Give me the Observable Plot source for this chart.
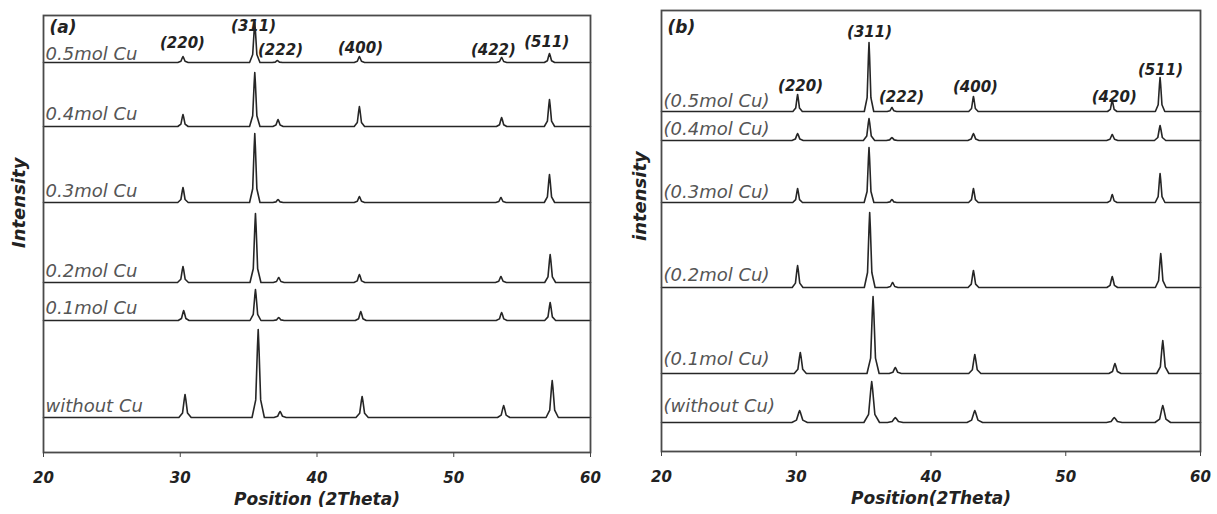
<!DOCTYPE html>
<html><head><meta charset="utf-8">
<script src="https://cdn.jsdelivr.net/npm/d3@7"></script>
<script src="https://cdn.jsdelivr.net/npm/@observablehq/plot@0.6"></script>
<style>
body{margin:0;background:#fff}
#wrap{position:relative;width:1217px;height:514px;overflow:hidden;background:#fff}
#wrap svg{position:absolute;top:0}
#wrap svg g[aria-label="x-axis tick label"]{font-weight:bold;font-style:italic}
</style></head><body><div id="wrap"></div>
<script>
// ---------- Panel (a) ----------
const seriesA = ["0.5mol Cu", "0.4mol Cu", "0.3mol Cu", "0.2mol Cu", "0.1mol Cu", "without Cu"];
const offsetsA = [390, 326, 250, 170, 132, 35];
const peakPosA = [
  [30.2, 35.45, 37.1, 43.1, 53.5, 57.0],
  [30.2, 35.45, 37.15, 43.1, 53.5, 57.0],
  [30.2, 35.45, 37.15, 43.1, 53.45, 57.0],
  [30.2, 35.5, 37.2, 43.1, 53.45, 57.05],
  [30.25, 35.5, 37.2, 43.2, 53.5, 57.05],
  [30.35, 35.7, 37.3, 43.3, 53.65, 57.2]
];
const peakHtA = [
  [6, 40, 2, 6, 5, 9],
  [12, 54, 7, 20, 9, 27],
  [15, 69, 3, 6, 5, 28],
  [16, 69, 5, 8, 6, 28],
  [10, 31, 3, 9, 8, 18],
  [23, 88, 6, 21, 12, 37]
];
const widthA = [0.38, 0.38, 0.38, 0.4, 0.4, 0.45];
const hklA = ["(220)", "(311)", "(222)", "(400)", "(422)", "(511)"];
const hklXA = [30.16, 35.36, 37.33, 43.18, 52.9, 56.8];
const hklYA = [409, 426, 402, 404, 402, 410];

// ---------- Panel (b) ----------
const seriesB = ["(0.5mol Cu)", "(0.4mol Cu)", "(0.3mol Cu)", "(0.2mol Cu)", "(0.1mol Cu)", "(without Cu)"];
const offsetsB = [340, 311, 249, 164, 78, 29];
const peakPosB = [
  [30.1, 35.4, 37.1, 43.15, 53.45, 57.0],
  [30.1, 35.4, 37.1, 43.15, 53.45, 57.0],
  [30.1, 35.4, 37.1, 43.15, 53.45, 57.0],
  [30.1, 35.45, 37.15, 43.15, 53.45, 57.05],
  [30.3, 35.7, 37.35, 43.25, 53.65, 57.2],
  [30.25, 35.6, 37.35, 43.25, 53.6, 57.2]
];
const peakHtB = [
  [17, 69, 4, 15, 11, 34],
  [7, 22, 3, 7, 6, 15],
  [14, 55, 3, 14, 8, 29],
  [22, 75, 5, 17, 11, 34],
  [21, 77, 6, 19, 10, 33],
  [12, 41, 5, 12, 5, 17]
];
const widthB = [0.35, 0.42, 0.36, 0.4, 0.45, 0.58];
const hklB = ["(220)", "(311)", "(222)", "(400)", "(420)", "(511)"];
const hklXB = [30.32, 35.44, 37.81, 43.3, 53.6, 57.03];
const hklYB = [365, 419, 354, 364, 354, 381];

const xTicks = [20, 30, 40, 50, 60];

// build a trace table from the read peak list (position, height, width)
function traceRows(names, offsets, pos, hts, widths) {
  const rows = [];
  names.forEach((name, i) => {
    const o = offsets[i], w = widths[i];
    rows.push({name, x: 20, y: o});
    pos[i].forEach((p, j) => {
      const h = hts[i][j];
      rows.push({name, x: p - w, y: o});
      rows.push({name, x: p - w * 0.4, y: o + h * 0.2});
      rows.push({name, x: p - w * 0.12, y: o + h * 0.8});
      rows.push({name, x: p, y: o + h});
      rows.push({name, x: p + w * 0.12, y: o + h * 0.8});
      rows.push({name, x: p + w * 0.4, y: o + h * 0.2});
      rows.push({name, x: p + w, y: o});
    });
    rows.push({name, x: 60, y: o});
  });
  return rows;
}

const FONT = "DejaVu Sans, Liberation Sans, sans-serif";

function panel({names, offsets, pos, hts, widths, hkl, hklX, hklY, tag, tagDy, xTitle, yTitle, labelLift,
                width, marginLeft, marginRight, marginTop, marginBottom, yMax, yTitleDx, yTitleDy}) {
  const rows = traceRows(names, offsets, pos, hts, widths);
  const labels = names.map((n, i) => ({n, y: offsets[i], lift: labelLift[i]}));
  const peaks = hkl.map((t, i) => ({t, x: hklX[i], y: hklY[i]}));
  return Plot.plot({
    width, height: 514, marginLeft, marginRight, marginTop, marginBottom,
    style: {fontFamily: FONT, background: "white", overflow: "visible"},
    x: {domain: [20, 60]},
    y: {domain: [0, yMax], axis: null},
    marks: [
      Plot.line(rows, {x: "x", y: "y", z: "name", stroke: "#262626", strokeWidth: 1.6}),
      Plot.text(labels, {x: () => 20, y: d => d.y + d.lift, text: "n", textAnchor: "start", lineAnchor: "bottom",
        dx: 2, fontSize: 18, fontStyle: "italic", fill: "#555"}),
      Plot.text(peaks, {x: "x", y: "y", text: "t", fontSize: 15, fontWeight: "bold", fontStyle: "italic", fill: "#222"}),
      Plot.text([tag], {frameAnchor: "top-left", dx: 6, dy: tagDy, text: d => d, textAnchor: "start", lineAnchor: "top",
        fontSize: 17, fontWeight: "bold", fontStyle: "italic", fill: "#222"}),
      Plot.frame({stroke: "#4a4a4a", strokeWidth: 1.8}),
      Plot.axisX({ticks: xTicks, tickSize: 5, tickPadding: 15, fontSize: 15, fontWeight: "bold", fontStyle: "italic",
        label: null, tickFormat: d => String(d), stroke: "#444", fill: "#222"}),
      Plot.text([xTitle], {frameAnchor: "bottom", dy: 52, text: d => d, fontSize: 17, fontWeight: "bold",
        fontStyle: "italic", fill: "#222"}),
      Plot.text([yTitle], {frameAnchor: "left", dx: yTitleDx, dy: yTitleDy, rotate: -90, text: d => d, fontSize: 18,
        fontWeight: "bold", fontStyle: "italic", fill: "#222"})
    ]
  });
}

const wrap = document.getElementById("wrap");
const a = panel({names: seriesA, offsets: offsetsA, pos: peakPosA, hts: peakHtA, widths: widthA,
  hkl: hklA, hklX: hklXA, hklY: hklYA, tag: "(a)", tagDy: 5, xTitle: "Position (2Theta)", yTitle: "Intensity",
  labelLift: [3, 7, 6, 6, 7, 6],
  width: 605, marginLeft: 43, marginRight: 15, marginTop: 15, marginBottom: 62, yMax: 437, yTitleDx: -24, yTitleDy: 14});
a.style.left = "0px";
wrap.appendChild(a);
const b = panel({names: seriesB, offsets: offsetsB, pos: peakPosB, hts: peakHtB, widths: widthB,
  hkl: hklB, hklX: hklXB, hklY: hklYB, tag: "(b)", tagDy: 10, xTitle: "Position(2Theta)", yTitle: "intensity",
  labelLift: [5, 6, 5, 7, 9, 11],
  width: 610, marginLeft: 54, marginRight: 17, marginTop: 10, marginBottom: 63, yMax: 441, yTitleDx: -21, yTitleDy: 10});
b.style.left = "607px";
wrap.appendChild(b);
</script></body></html>
